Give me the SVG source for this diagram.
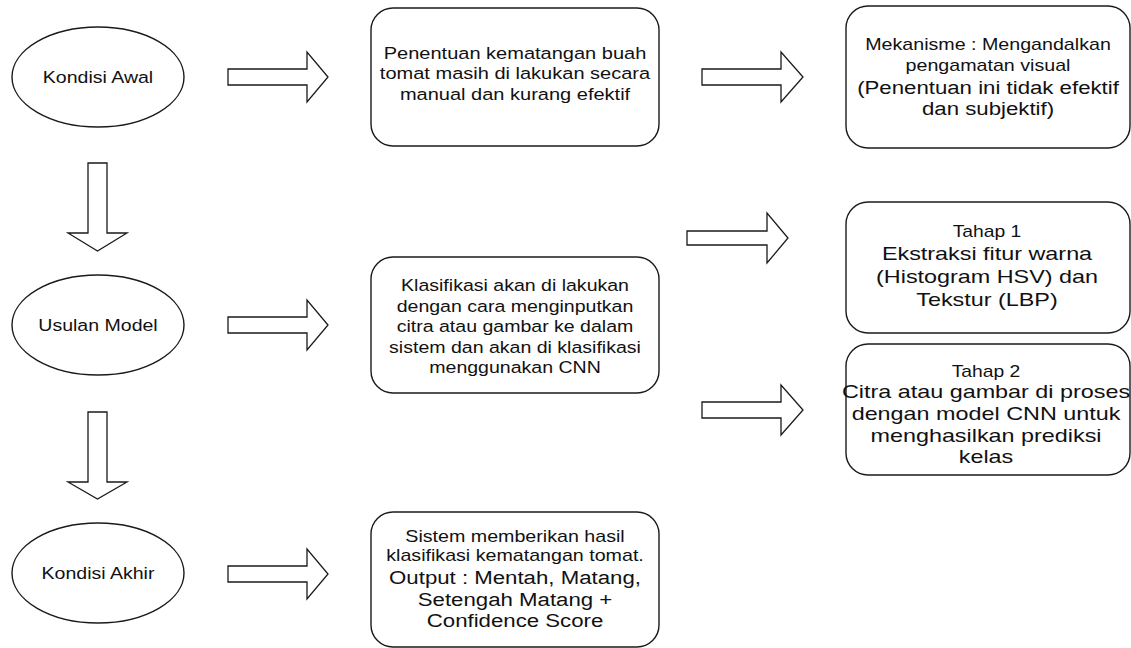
<svg xmlns="http://www.w3.org/2000/svg" width="1131" height="648" viewBox="0 0 1131 648">
<style>
.shape{fill:#fff;stroke:#1a1a1a;stroke-width:1.4}
.arrow{fill:#fff;stroke:#1a1a1a;stroke-width:1.3;stroke-linejoin:miter}
text{font-family:"Liberation Sans",Arial,sans-serif;fill:#111;text-anchor:middle}
.e{font-size:17px}
.p{font-size:17.4px}
.s{font-size:16.8px}
.b{font-size:19px}
.ts{font-size:15.7px}
.tb{font-size:19px}
</style>
<rect width="1131" height="648" fill="#fff"/>
<g id="connectors">
<path class="arrow" d="M228,69 H307 V52 L328,77 L307,102 V85 H228 Z"/>
<path class="arrow" d="M702,69 H781 V52 L803,77 L781,102 V85 H702 Z"/>
<path class="arrow" d="M687,231 H767 V213 L788,238 L767,263 V245 H687 Z"/>
<path class="arrow" d="M228,317 H307 V300 L328,325 L307,350 V333 H228 Z"/>
<path class="arrow" d="M702,402 H781 V385 L803,410 L781,435 V418 H702 Z"/>
<path class="arrow" d="M228,566 H307 V549 L328,574 L307,599 V582 H228 Z"/>
<path class="arrow" d="M88,163 H107 V233 H127 L97.5,251 L68,233 H88 Z"/>
<path class="arrow" d="M88,412 H107 V482 H127 L97.5,499 L68,482 H88 Z"/>
</g>
<g id="kondisi-awal">
<ellipse class="shape" cx="98" cy="77" rx="86" ry="50"/>
<g transform="translate(98,0) scale(1.15,1)"><text class="e" x="0" y="83">Kondisi Awal</text></g>
</g>
<g id="usulan-model">
<ellipse class="shape" cx="98" cy="325" rx="86" ry="50"/>
<g transform="translate(98,0) scale(1.15,1)"><text class="e" x="0" y="331">Usulan Model</text></g>
</g>
<g id="kondisi-akhir">
<ellipse class="shape" cx="98" cy="573" rx="86" ry="50"/>
<g transform="translate(98,0) scale(1.15,1)"><text class="e" x="0" y="579">Kondisi Akhir</text></g>
</g>
<g id="penentuan">
<rect class="shape" x="371" y="8" width="288" height="138" rx="22"/>
<g transform="translate(515,0) scale(1.15,1)">
<text class="p" x="0" y="59">Penentuan kematangan buah</text>
<text class="p" x="0" y="79.5">tomat masih di lakukan secara</text>
<text class="p" x="0" y="100">manual dan kurang efektif</text>
</g>
</g>
<g id="mekanisme">
<rect class="shape" x="846" y="6" width="284" height="142" rx="22"/>
<g transform="translate(988,0) scale(1.17,1)">
<text class="s" x="0" y="50">Mekanisme : Mengandalkan</text>
<text class="s" x="0" y="71">pengamatan visual</text>
<text class="b" x="0" y="94">(Penentuan ini tidak efektif</text>
<text class="b" x="0" y="115">dan subjektif)</text>
</g>
</g>
<g id="klasifikasi">
<rect class="shape" x="371" y="257" width="288" height="136" rx="22"/>
<g transform="translate(515,0) scale(1.15,1)">
<text class="e" x="0" y="291.5">Klasifikasi akan di lakukan</text>
<text class="e" x="0" y="312">dengan cara menginputkan</text>
<text class="e" x="0" y="332.3">citra atau gambar ke dalam</text>
<text class="e" x="0" y="352.6">sistem dan akan di klasifikasi</text>
<text class="e" x="0" y="373">menggunakan CNN</text>
</g>
</g>
<g id="tahap-1">
<rect class="shape" x="846" y="202" width="284" height="131" rx="22"/>
<g transform="translate(987,0) scale(1.23,1)">
<text class="ts" x="0" y="237">Tahap 1</text>
<text class="tb" x="0" y="260">Ekstraksi fitur warna</text>
<text class="tb" x="0" y="283">(Histogram HSV) dan</text>
<text class="tb" x="0" y="306">Tekstur (LBP)</text>
</g>
</g>
<g id="tahap-2">
<rect class="shape" x="846" y="344" width="284" height="131" rx="22"/>
<g transform="translate(986,0) scale(1.23,1)">
<text class="ts" x="0" y="377">Tahap 2</text>
<text class="tb" x="0" y="398.5">Citra atau gambar di proses</text>
<text class="tb" x="0" y="420.5">dengan model CNN untuk</text>
<text class="tb" x="0" y="442">menghasilkan prediksi</text>
<text class="tb" x="0" y="463.5">kelas</text>
</g>
</g>
<g id="sistem">
<rect class="shape" x="371" y="512" width="288" height="135" rx="22"/>
<g transform="translate(515,0) scale(1.17,1)">
<text class="s" x="0" y="542">Sistem memberikan hasil</text>
<text class="s" x="0" y="561">klasifikasi kematangan tomat.</text>
<text class="b" x="0" y="584.5">Output : Mentah, Matang,</text>
<text class="b" x="0" y="606">Setengah Matang +</text>
<text class="b" x="0" y="627.5">Confidence Score</text>
</g>
</g>
</svg>
